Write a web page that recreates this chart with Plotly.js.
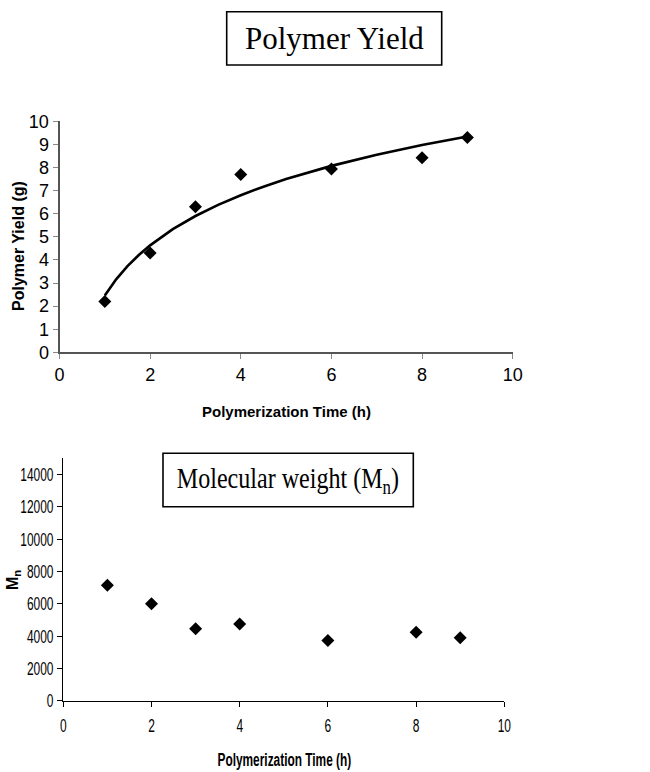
<!DOCTYPE html>
<html>
<head>
<meta charset="utf-8">
<script src="https://cdn.plot.ly/plotly-3.0.1.min.js"></script>
<style>html,body{margin:0;padding:0;background:#fff;}#chart{width:650px;height:772px;}</style>
</head>
<body>
<div id="chart"></div>
<script>
// Polymerization time (h)
const timeH = [1, 2, 3, 4, 6, 8, 9];
// Polymer yield (g)
const yieldG = [2.2, 4.3, 6.3, 7.7, 7.93, 8.42, 9.3];
// Trendline
const trendX = [1, 1.25, 1.5, 1.75, 2, 2.5, 3, 3.5, 4, 4.5, 5, 5.5, 6, 7, 8, 9];
const trendY = [2.46, 3.16, 3.73, 4.21, 4.63, 5.33, 5.90, 6.38, 6.80, 7.17, 7.50, 7.80, 8.07, 8.55, 8.97, 9.34];
// Molecular weight Mn
const mn = [7150, 6000, 4450, 4750, 3730, 4240, 3900];

const titleTop = "Polymer Yield";
const titleBottom = "Molecular weight (M<sub>n</sub>)";
const xTitle = "Polymerization Time (h)";
const yTitleTop = "Polymer Yield (g)";
const yTitleBottom = "M<sub>n</sub>";

const arial = "Liberation Sans, Arial, sans-serif";
const serif = "Liberation Serif, Times New Roman, serif";
const W = 650, H = 772;

const traces = [
  {x: trendX, y: trendY, type: 'scatter', mode: 'lines', line: {color: '#000', width: 2.6, shape: 'linear'}, xaxis: 'x', yaxis: 'y', hoverinfo: 'skip'},
  {x: timeH, y: yieldG, type: 'scatter', mode: 'markers', marker: {symbol: 'diamond', size: 10, color: '#000'}, xaxis: 'x', yaxis: 'y'},
  {x: timeH, y: mn, type: 'scatter', mode: 'markers', marker: {symbol: 'diamond', size: 10, color: '#000'}, xaxis: 'x2', yaxis: 'y2'}
];

const layout = {
  width: W, height: H,
  margin: {l: 0, r: 0, t: 0, b: 0},
  paper_bgcolor: '#fff', plot_bgcolor: '#fff',
  showlegend: false,
  xaxis: {domain: [59.5/W, 512.7/W], anchor: 'y', range: [0, 10], dtick: 2, tick0: 0,
    showgrid: false, zeroline: false, showline: true, linecolor: '#555', linewidth: 2,
    ticks: 'outside', ticklen: 5, tickcolor: '#888', tickwidth: 1,
    tickfont: {family: arial, size: 18, color: '#000'}},
  yaxis: {domain: [(H-352.3)/H, (H-121.3)/H], anchor: 'x', range: [0, 10], dtick: 1, tick0: 0,
    showgrid: false, zeroline: false, showline: true, linecolor: '#555', linewidth: 2,
    ticks: 'outside', ticklen: 5, tickcolor: '#888', tickwidth: 1,
    tickfont: {family: arial, size: 18, color: '#000'}},
  xaxis2: {domain: [63.3/W, 504.3/W], anchor: 'y2', range: [0, 10], dtick: 2, tick0: 0,
    showgrid: false, zeroline: false, showline: true, linecolor: '#000', linewidth: 1,
    ticks: 'outside', ticklen: 5, tickcolor: '#000', tickwidth: 1, ticklabelstandoff: 3,
    tickfont: {family: arial, size: 19, color: '#000'}},
  yaxis2: {domain: [(H-700.7)/H, (H-458.3)/H], anchor: 'x2', range: [0, 15000], dtick: 2000, tick0: 0,
    tickformat: 'd',
    showgrid: false, zeroline: false, showline: true, linecolor: '#000', linewidth: 1,
    ticks: 'outside', ticklen: 5, tickcolor: '#000', tickwidth: 1,
    tickfont: {family: arial, size: 19, color: '#000'}},
  shapes: [
    {type: 'rect', xref: 'paper', yref: 'paper', x0: 226.7/W, x1: 441.7/W, y0: (H-65)/H, y1: (H-11.7)/H,
     line: {color: '#000', width: 1.6}, fillcolor: 'rgba(0,0,0,0)'},
    {type: 'rect', xref: 'paper', yref: 'paper', x0: 163/W, x1: 413.3/W, y0: (H-506.7)/H, y1: (H-453.3)/H,
     line: {color: '#000', width: 1.6}, fillcolor: 'rgba(0,0,0,0)'}
  ],
  annotations: [
    {text: titleTop, xref: 'paper', yref: 'paper', x: 334.2/W, y: (H-38.3)/H, xanchor: 'center', yanchor: 'middle',
     showarrow: false, font: {family: serif, size: 31, color: '#000'}},
    {text: titleBottom, xref: 'paper', yref: 'paper', x: 288.2/W, y: (H-480)/H, xanchor: 'center', yanchor: 'middle',
     showarrow: false, font: {family: serif, size: 29, color: '#000'}},
    {text: '<b>' + xTitle + '</b>', xref: 'paper', yref: 'paper', x: 286/W, y: (H-411.7)/H, xanchor: 'center', yanchor: 'middle',
     showarrow: false, font: {family: arial, size: 15, color: '#000'}},
    {text: '<b>' + yTitleTop + '</b>', xref: 'paper', yref: 'paper', x: 18/W, y: (H-246)/H, xanchor: 'center', yanchor: 'middle',
     showarrow: false, textangle: -90, font: {family: arial, size: 16, color: '#000'}},
    {text: '<b>' + xTitle + '</b>', xref: 'paper', yref: 'paper', x: 284/W, y: (H-760)/H, xanchor: 'center', yanchor: 'middle',
     showarrow: false, font: {family: arial, size: 18, color: '#000'}},
    {text: '<b>' + yTitleBottom + '</b>', xref: 'paper', yref: 'paper', x: 13/W, y: (H-580)/H, xanchor: 'center', yanchor: 'middle',
     showarrow: false, textangle: -90, font: {family: arial, size: 16, color: '#000'}}
  ]
};

// horizontally condense text (the lower chart uses a narrow typeface)
function squeeze(selector, s) {
  document.querySelectorAll(selector).forEach(function (t) {
    const b = t.getBBox();
    const anchor = t.getAttribute('text-anchor') || 'start';
    const cx = anchor === 'middle' ? b.x + b.width / 2 : (anchor === 'end' ? b.x + b.width : b.x);
    const tr = t.getAttribute('transform') || '';
    t.setAttribute('transform', tr + ' translate(' + cx + ',0) scale(' + s + ',1) translate(' + (-cx) + ',0)');
  });
}

Plotly.newPlot('chart', traces, layout, {staticPlot: true, displayModeBar: false}).then(function () {
  squeeze('g.x2tick text', 0.63);
  squeeze('g.y2tick text', 0.63);
  squeeze('.annotation[data-index="4"] text', 0.66);
  squeeze('.annotation[data-index="1"] text', 0.83);
});
</script>
</body>
</html>
